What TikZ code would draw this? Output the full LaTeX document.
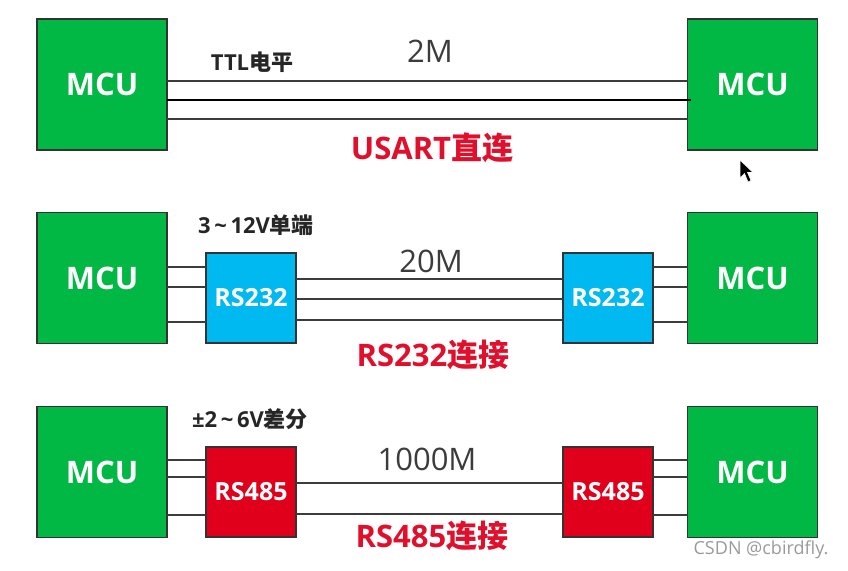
\documentclass[tikz,border=0pt]{standalone}
\usepackage{fontspec}
\setmainfont{Open Sans}
\newfontfamily\cjk{Noto Sans CJK SC}
\usetikzlibrary{positioning}
\definecolor{McuGreen}{HTML}{00B843}
\definecolor{RsCyan}{HTML}{00B9F1}
\definecolor{RsRed}{HTML}{E0001B}
\definecolor{BoxLine}{HTML}{333333}
\definecolor{WireGray}{HTML}{3C3C3C}
\definecolor{TitleRed}{HTML}{E0102C}
\definecolor{InkDark}{HTML}{262626}
\definecolor{MarkGray}{HTML}{9A9A9A}

\begin{document}
\begin{tikzpicture}[x=1pt, y=-1pt,
  box/.style={draw=BoxLine, line width=1.6pt, inner sep=0pt, outer sep=0pt, text=white},
  mcu/.style={box, fill=McuGreen, minimum width=130pt, minimum height=131pt,
    font=\fontsize{31}{31}\selectfont\bfseries},
  rsbox/.style={box, minimum width=90pt, minimum height=90pt,
    font=\fontsize{25}{25}\selectfont\bfseries},
  wire/.style={draw=WireGray, line width=1.5pt},
  speed/.style={text=InkDark!90, font=\fontsize{31}{31}\selectfont},
  level/.style={text=InkDark, font=\fontsize{22}{22}\selectfont\bfseries},
  title/.style={text=TitleRed, font=\fontsize{31}{31}\selectfont\bfseries},
]
  % canvas
  \useasboundingbox (0,0) rectangle (848,570);

  % row centres
  \def\ya{84.5}  % USART
  \def\yb{278}   % RS232
  \def\yc{472}   % RS485

  % ---- USART direct ----
  \node[mcu] (mcuLa) at (102, \ya) {MCU};
  \node[mcu] (mcuRa) at (752.5, \ya) {MCU};
  \draw[wire] (mcuLa.east |- 0,81) -- (mcuRa.west |- 0,81);
  \draw[black, line width=2pt] (mcuLa.east |- 0,100) -- ([xshift=3pt]mcuRa.west |- 0,100);
  \draw[wire] (mcuLa.east |- 0,119) -- (mcuRa.west |- 0,119);
  \node[level] (lvla) at (252, 62) {TTL{\cjk 电平}};
  \node[speed] (spda) at (430, 51) {2M};
  \node[title] (ttla) at (432, 148) {USART{\cjk 直连}};

  % ---- RS232 ----
  \node[mcu] (mcuLb) at (102, \yb) {MCU};
  \node[mcu] (mcuRb) at (752.5, \yb) {MCU};
  \node[rsbox, fill=RsCyan] (rsLb) at (251, 298) {RS232};
  \node[rsbox, fill=RsCyan] (rsRb) at (608, 298) {RS232};
  \foreach \y in {267,287,322} {
    \draw[wire] (mcuLb.east |- 0,\y) -- (rsLb.west |- 0,\y);
    \draw[wire] (rsRb.east |- 0,\y) -- (mcuRb.west |- 0,\y);
  }
  \foreach \y in {279,299,320}
    \draw[wire] (rsLb.east |- 0,\y) -- (rsRb.west |- 0,\y);
  \node[level] (lvlb) at (256, 225) {3\,\textasciitilde\,12V{\cjk 单端}};
  \node[speed] (spdb) at (431, 261) {20M};
  \node[title] (ttlb) at (433, 355) {RS232{\cjk 连接}};

  % ---- RS485 ----
  \node[mcu] (mcuLc) at (102, \yc) {MCU};
  \node[mcu] (mcuRc) at (752.5, \yc) {MCU};
  \node[rsbox, fill=RsRed] (rsLc) at (251, 492) {RS485};
  \node[rsbox, fill=RsRed] (rsRc) at (608, 492) {RS485};
  \foreach \y in {460,477,515} {
    \draw[wire] (mcuLc.east |- 0,\y) -- (rsLc.west |- 0,\y);
    \draw[wire] (rsRc.east |- 0,\y) -- (mcuRc.west |- 0,\y);
  }
  \foreach \y in {483,514}
    \draw[wire] (rsLc.east |- 0,\y) -- (rsRc.west |- 0,\y);
  \node[level] (lvlc) at (250, 419) {±2\,\textasciitilde\,6V{\cjk 差分}};
  \node[speed] (spdc) at (427, 459) {1000M};
  \node[title] (ttlc) at (432, 536) {RS485{\cjk 连接}};

  % pointer and watermark
  \fill[black, draw=white, line width=0.6pt] (740,160) -- (740,178) -- (744.5,173.5)
    -- (748,182) -- (751,180.5) -- (747.5,172.5) -- (753,172.5) -- cycle;
  \node[text=MarkGray, font=\fontsize{18}{18}\selectfont] (mark) at (761, 550) {CSDN @cbirdfly.};
\end{tikzpicture}
\end{document}
